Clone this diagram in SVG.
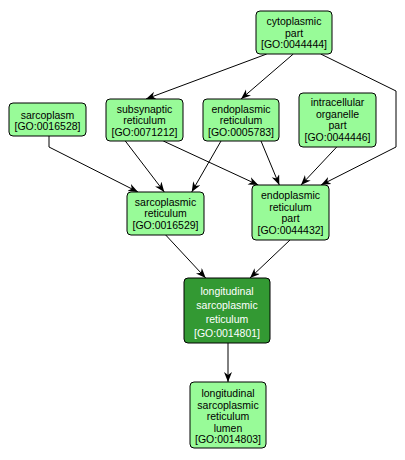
<svg xmlns="http://www.w3.org/2000/svg" width="405" height="460" viewBox="0 0 405 460">
<style>
.n rect{fill:#98fb98;stroke:#000;stroke-width:1}
.d rect{fill:#339933;stroke:#000;stroke-width:1}
text{font-family:"Liberation Sans",Arial,sans-serif;font-size:10.5px;text-anchor:middle;fill:#000}
.d text{fill:#fff}
.e path{fill:none;stroke:#000;stroke-width:1;marker-end:url(#a)}
</style>
<defs>
<marker id="a" markerUnits="userSpaceOnUse" markerWidth="12" markerHeight="10" refX="10" refY="4" orient="auto">
<path d="M0,0 L10,4 L0,8 L3,4 z" fill="#000"/>
</marker>
</defs>
<rect width="405" height="460" fill="#fff"/>
<g id="edges" class="e">
<path d="M266.7,54 L146,99"/>
<path d="M293.3,54 L241,99"/>
<path d="M320.7,54 L396,91 L396,147 L321,185"/>
<path d="M49,136 L49,147 L138,192"/>
<path d="M125.3,141 L164.3,192"/>
<path d="M163.3,141 L258.3,185"/>
<path d="M221,141 L191.7,192"/>
<path d="M261,141 L279.3,185"/>
<path d="M336.7,147 L301,185"/>
<path d="M165.7,235 L205.7,278"/>
<path d="M290,240 L250,278"/>
<path d="M228,343 L228,382"/>
</g>
<g id="GO0044444" class="n">
<rect x="256" y="11" width="76" height="43" rx="4"/>
<text x="294" y="25">cytoplasmic</text>
<text x="294" y="36.5">part</text>
<text x="294" y="48">[GO:0044444]</text>
</g>
<g id="GO0016528" class="n">
<rect x="9" y="103" width="77" height="33" rx="4"/>
<text x="47.5" y="118.5">sarcoplasm</text>
<text x="47.5" y="130">[GO:0016528]</text>
</g>
<g id="GO0071212" class="n">
<rect x="106" y="99" width="77" height="42" rx="4"/>
<text x="144.5" y="112.5">subsynaptic</text>
<text x="144.5" y="124">reticulum</text>
<text x="144.5" y="135.5">[GO:0071212]</text>
</g>
<g id="GO0005783" class="n">
<rect x="203" y="99" width="76" height="42" rx="4"/>
<text x="241" y="112.5">endoplasmic</text>
<text x="241" y="124">reticulum</text>
<text x="241" y="135.5">[GO:0005783]</text>
</g>
<g id="GO0044446" class="n">
<rect x="299" y="93" width="77" height="54" rx="4"/>
<text x="337.5" y="106">intracellular</text>
<text x="337.5" y="117.5">organelle</text>
<text x="337.5" y="129">part</text>
<text x="337.5" y="140.5">[GO:0044446]</text>
</g>
<g id="GO0016529" class="n">
<rect x="127" y="192" width="77" height="43" rx="4"/>
<text x="165.5" y="205.5">sarcoplasmic</text>
<text x="165.5" y="217">reticulum</text>
<text x="165.5" y="228.5">[GO:0016529]</text>
</g>
<g id="GO0044432" class="n">
<rect x="252" y="185" width="77" height="55" rx="4"/>
<text x="290.5" y="199">endoplasmic</text>
<text x="290.5" y="210.5">reticulum</text>
<text x="290.5" y="222">part</text>
<text x="290.5" y="233.5">[GO:0044432]</text>
</g>
<g id="GO0014801" class="d">
<rect x="184" y="278" width="86" height="65" rx="4"/>
<text x="227" y="295">longitudinal</text>
<text x="227" y="309">sarcoplasmic</text>
<text x="227" y="323">reticulum</text>
<text x="227" y="337">[GO:0014801]</text>
</g>
<g id="GO0014803" class="n">
<rect x="190" y="382" width="76" height="66" rx="4"/>
<text x="228" y="397">longitudinal</text>
<text x="228" y="408.5">sarcoplasmic</text>
<text x="228" y="420">reticulum</text>
<text x="228" y="431.5">lumen</text>
<text x="228" y="443">[GO:0014803]</text>
</g>
</svg>
